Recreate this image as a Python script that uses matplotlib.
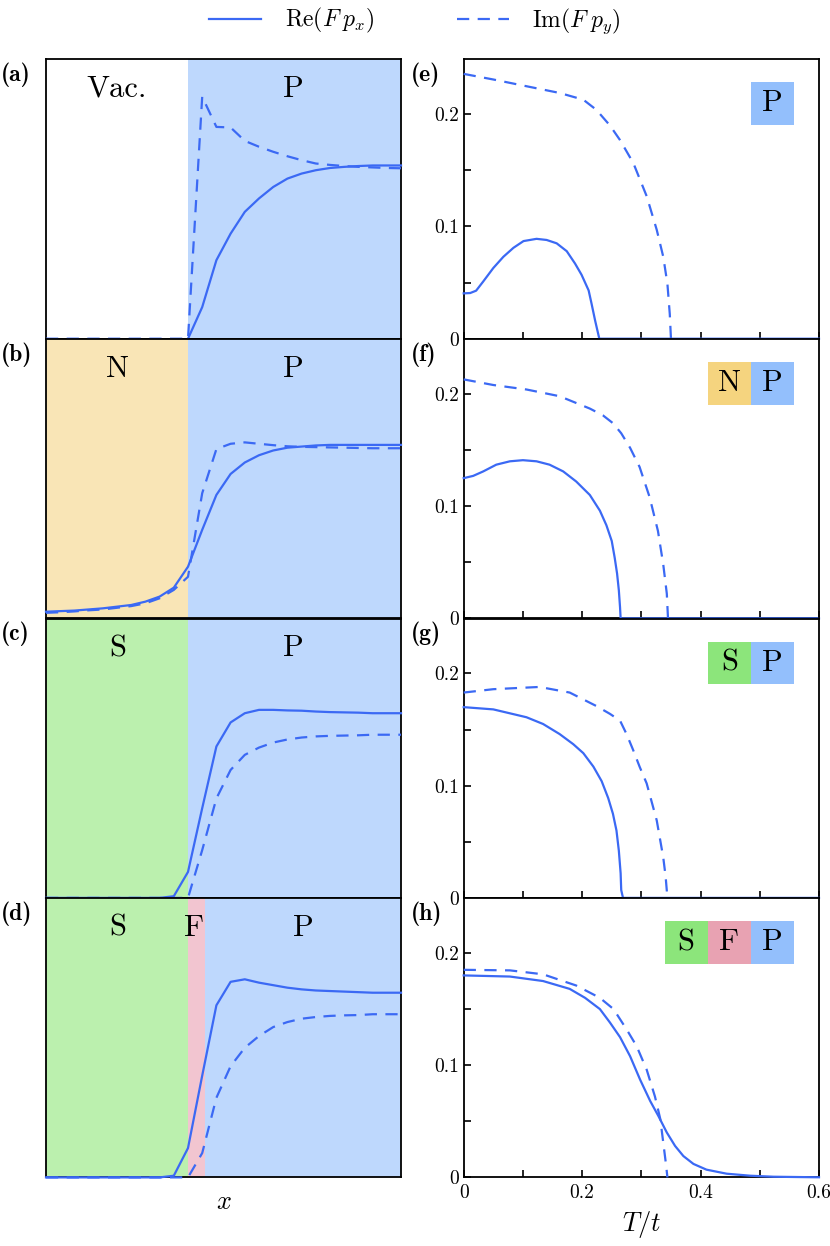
import numpy as np
import matplotlib
matplotlib.use('Agg')
import matplotlib.pyplot as plt
from matplotlib.lines import Line2D
from matplotlib.patches import Rectangle

plt.rcParams['font.family'] = 'cmr10'
plt.rcParams['mathtext.fontset'] = 'cm'
plt.rcParams['axes.formatter.use_mathtext'] = True

nan = np.nan

# lattice sites for the spatial profiles (left column)
sites = list(range(26))

re_a = [nan, nan, nan, nan, nan, nan, nan, nan, nan, nan,
        0.0, 0.113, 0.281, 0.376, 0.454, 0.502, 0.543, 0.573, 0.591, 0.603,
        0.611, 0.615, 0.618, 0.620, 0.620, 0.620]
im_a = [0, 0, 0, 0, 0, 0, 0, 0, 0, 0,
        0, 0.866, 0.758, 0.756, 0.708, 0.687, 0.669, 0.653, 0.639, 0.627,
        0.622, 0.618, 0.615, 0.613, 0.611, 0.610]
re_b = [0.024, 0.026, 0.028, 0.032, 0.036, 0.042, 0.048, 0.060, 0.078, 0.110,
        0.185, 0.317, 0.442, 0.517, 0.558, 0.584, 0.601, 0.611, 0.615, 0.619,
        0.621, 0.621, 0.621, 0.621, 0.621, 0.621]
im_b = [0.020, 0.022, 0.025, 0.029, 0.032, 0.038, 0.044, 0.054, 0.072, 0.102,
        0.149, 0.448, 0.606, 0.625, 0.630, 0.625, 0.620, 0.616, 0.614, 0.613,
        0.612, 0.611, 0.610, 0.609, 0.609, 0.609]
re_c = [0, 0, 0, 0, 0, 0, 0, 0, 0, 0.006,
        0.093, 0.321, 0.542, 0.628, 0.661, 0.673, 0.673, 0.671, 0.670, 0.667,
        0.665, 0.664, 0.663, 0.661, 0.661, 0.661]
im_c = [0, 0, 0, 0, 0, 0, 0, 0, 0, 0,
        0, 0.171, 0.356, 0.458, 0.512, 0.538, 0.556, 0.567, 0.574, 0.578,
        0.580, 0.581, 0.582, 0.584, 0.584, 0.584]
re_d = [0, 0, 0, 0, 0, 0, 0, 0, 0, 0.006,
        0.105, 0.364, 0.616, 0.700, 0.709, 0.697, 0.688, 0.679, 0.673, 0.669,
        0.667, 0.665, 0.663, 0.661, 0.661, 0.661]
im_d = [0, 0, 0, 0, 0, 0, 0, 0, 0, 0,
        0, 0.087, 0.285, 0.398, 0.464, 0.506, 0.538, 0.556, 0.568, 0.574,
        0.578, 0.580, 0.581, 0.584, 0.584, 0.584]

# temperature dependence (right column)
T_re_e = [0, 0.011, 0.021, 0.033, 0.050, 0.067, 0.084, 0.101, 0.123, 0.140, 0.157,
          0.174, 0.188, 0.199, 0.211, 0.216, 0.222, 0.229, 0.6]
re_e = [0.0404, 0.0407, 0.0428, 0.051, 0.063, 0.073, 0.081, 0.087, 0.089, 0.088, 0.085,
        0.078, 0.067, 0.057, 0.043, 0.031, 0.016, 0, 0]
T_im_e = [0, 0.050, 0.106, 0.162, 0.202, 0.224, 0.247, 0.264, 0.2865, 0.309, 0.326,
          0.337, 0.344, 0.348, 0.350]
im_e = [0.236, 0.231, 0.225, 0.219, 0.213, 0.204, 0.190, 0.177, 0.1565, 0.127, 0.097,
        0.073, 0.049, 0.022, 0]

T_re_f = [0, 0.016, 0.033, 0.055, 0.078, 0.100, 0.123, 0.145, 0.168, 0.190, 0.213,
          0.230, 0.241, 0.250, 0.255, 0.259, 0.262, 0.264, 0.265, 0.6]
re_f = [0.125, 0.127, 0.131, 0.137, 0.140, 0.141, 0.140, 0.137, 0.131, 0.122, 0.110,
        0.096, 0.083, 0.069, 0.054, 0.040, 0.025, 0.010, 0, 0]
T_im_f = [0, 0.050, 0.106, 0.162, 0.213, 0.235, 0.252, 0.266, 0.281, 0.297, 0.314,
          0.328, 0.337, 0.343, 0.345]
im_f = [0.213, 0.208, 0.204, 0.198, 0.187, 0.181, 0.174, 0.165, 0.152, 0.135, 0.108,
        0.078, 0.048, 0.022, 0]

T_re_g = [0, 0.050, 0.106, 0.134, 0.162, 0.185, 0.202, 0.219, 0.233, 0.244, 0.252,
          0.258, 0.262, 0.265, 0.266, 0.269, 0.6]
re_g = [0.170, 0.168, 0.161, 0.155, 0.146, 0.137, 0.129, 0.117, 0.104, 0.089, 0.075,
        0.060, 0.042, 0.022, 0.007, 0, 0]
T_im_g = [0, 0.050, 0.128, 0.179, 0.224, 0.247, 0.264, 0.275, 0.286, 0.297, 0.309,
          0.326, 0.337, 0.341, 0.344]
im_g = [0.183, 0.186, 0.188, 0.183, 0.171, 0.164, 0.158, 0.146, 0.132, 0.117, 0.102,
        0.069, 0.036, 0.019, 0]

T_re_h = [0, 0.078, 0.134, 0.179, 0.205, 0.230, 0.247, 0.264, 0.281, 0.298, 0.315,
          0.329, 0.343, 0.357, 0.371, 0.388, 0.410, 0.444, 0.484, 0.523, 0.568, 0.6]
re_h = [0.180, 0.179, 0.175, 0.168, 0.160, 0.150, 0.138, 0.125, 0.108, 0.087, 0.068,
        0.0545, 0.040, 0.028, 0.019, 0.012, 0.0069, 0.0033, 0.0015, 0.0006, 0.0003, 0.0001]
T_im_h = [0, 0.078, 0.134, 0.190, 0.230, 0.253, 0.275, 0.292, 0.309, 0.323, 0.332,
          0.337, 0.342, 0.344]
im_h = [0.185, 0.1845, 0.181, 0.171, 0.160, 0.150, 0.132, 0.117, 0.096, 0.072, 0.052,
        0.031, 0.010, 0]

blue = '#3b69f4'
region_col = {'P': '#bed8fd', 'N': '#f9e5b6', 'S': '#bbf0ae', 'F': '#f2c5d0', 'Vac.': 'white'}
badge_col = {'P': '#93bffc', 'N': '#f5d47f', 'S': '#8ce57b', 'F': '#e8a2b2'}

left_data = [(re_a, im_a), (re_b, im_b), (re_c, im_c), (re_d, im_d)]
left_regions = [
    [('Vac.', 0, 10), ('P', 10, 25)],
    [('N', 0, 10), ('P', 10, 25)],
    [('S', 0, 10), ('P', 10, 25)],
    [('S', 0, 10), ('F', 10, 11.22), ('P', 11.22, 25)],
]
left_text = [
    [('Vac.', 5.0), ('P', 17.45)],
    [('N', 5.0), ('P', 17.45)],
    [('S', 5.05), ('P', 17.45)],
    [('S', 5.05), ('F', 10.45), ('P', 18.1)],
]
right_data = [
    (T_re_e, re_e, T_im_e, im_e),
    (T_re_f, re_f, T_im_f, im_f),
    (T_re_g, re_g, T_im_g, im_g),
    (T_re_h, re_h, T_im_h, im_h),
]
right_badges = [['P'], ['N', 'P'], ['S', 'P'], ['S', 'F', 'P']]
left_labels = ['(a)', '(b)', '(c)', '(d)']
right_labels = ['(e)', '(f)', '(g)', '(h)']

W, H = 830, 1246
fig = plt.figure(figsize=(W / 100, H / 100), dpi=100)

tops = [59.3, 339.0, 618.5, 898.0]
row_h = 279.4
dash = (5.5, 3.8)

for i in range(4):
    bottom = 1 - (tops[i] + row_h) / H
    axl = fig.add_axes([46 / W, bottom, 355 / W, row_h / H])
    axr = fig.add_axes([463.7 / W, bottom, 355.3 / W, row_h / H])

    # left: spatial profile
    for name, x0, x1 in left_regions[i]:
        axl.axvspan(x0, x1, color=region_col[name], lw=0, zorder=0)
    re, im = left_data[i]
    axl.plot(sites, re, color=blue, lw=1.6, zorder=4, clip_on=False)
    axl.plot(sites, im, color=blue, lw=1.6, ls=(0, dash), zorder=5, clip_on=False)
    axl.set_xlim(0, 25)
    axl.set_ylim(0, 1)
    axl.set_xticks([])
    axl.set_yticks([])
    for name, xc in left_text[i]:
        axl.text(xc, 0.893, name, ha='center', va='center', fontsize=22)
    axl.text(-0.126, 0.988, left_labels[i], transform=axl.transAxes,
             ha='left', va='top', fontsize=17, family='cmb10')

    # right: temperature dependence
    T1, y1, T2, y2 = right_data[i]
    axr.plot(T2, y2, color=blue, lw=1.6, ls=(0, dash), zorder=4, clip_on=False)
    axr.plot(T1, y1, color=blue, lw=1.6, zorder=5, clip_on=False)
    axr.set_xlim(0, 0.6)
    axr.set_ylim(0, 0.249)
    axr.set_yticks([0, 0.1, 0.2])
    axr.set_yticklabels(['0', '0.1', '0.2'])
    axr.set_yticks([0.05, 0.15], minor=True)
    axr.set_xticks([0, 0.2, 0.4, 0.6])
    axr.set_xticks([0.1, 0.3, 0.5], minor=True)
    axr.tick_params(which='both', direction='in', length=5, width=1.2, labelsize=14,
                    top=False, right=False)
    axr.tick_params(axis='x', pad=5)
    if i < 3:
        axr.tick_params(axis='x', labelbottom=False)
    else:
        axr.set_xticklabels(['0', '0.2', '0.4', '0.6'])
        axr.set_xlabel(r'$T/t$', fontsize=19, labelpad=5)
        axl.set_xlabel(r'$x$', fontsize=19, labelpad=9)
    axr.text(-0.148, 0.988, right_labels[i], transform=axr.transAxes,
             ha='left', va='top', fontsize=17, family='cmb10')

    bw, bh = 0.1215, 0.152
    names = right_badges[i]
    xstart = 0.930 - bw * len(names)
    for k, name in enumerate(names):
        bx = xstart + k * bw
        axr.add_patch(Rectangle((bx, 0.917 - bh), bw, bh, transform=axr.transAxes,
                                color=badge_col[name], lw=0, zorder=6))
        axr.text(bx + bw / 2, 0.917 - bh / 2, name, transform=axr.transAxes,
                 ha='center', va='center', fontsize=22, zorder=7)

    for ax in (axl, axr):
        for sp in ax.spines.values():
            sp.set_linewidth(1.3)
            sp.set_zorder(3)

handles = [Line2D([], [], color=blue, lw=1.6),
           Line2D([], [], color=blue, lw=1.6, ls=(0, dash))]
fig.legend(handles, [r'$\mathrm{Re}(F\;p_x)$', r'$\mathrm{Im}(F\;p_y)$'],
           loc='upper center', bbox_to_anchor=(0.5, 1.012), ncol=2, frameon=False,
           fontsize=17, handlelength=2.2, columnspacing=3.5, handletextpad=1.0)

fig.savefig('out.png', dpi=100)
